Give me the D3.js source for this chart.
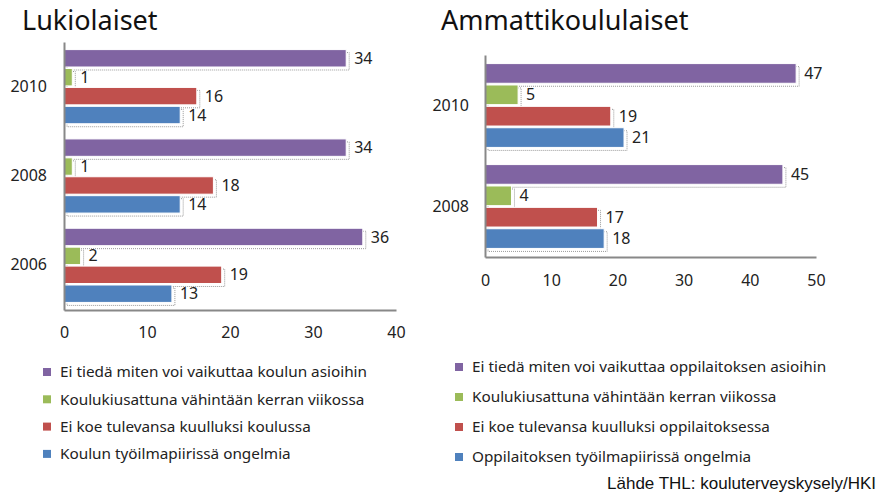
<!DOCTYPE html>
<html><head><meta charset="utf-8">
<script src="https://cdn.jsdelivr.net/npm/d3@7"></script>
<style>
body{margin:0;background:#fff;}
svg{display:block;font-family:"Noto Sans",sans-serif;}
</style></head>
<body><svg id="c" width="877" height="494"></svg>
<script>
// ---- data ----
const colors = ["#8064A2", "#9BBB59", "#C0504D", "#4F81BD"];

const lukioTitle = "Lukiolaiset";
const lukioYears = ["2010", "2008", "2006"];
const lukioVaikuttaa = [34, 34, 36];
const lukioKiusattu = [1, 1, 2];
const lukioKuulluksi = [16, 18, 19];
const lukioTyoilmapiiri = [14, 14, 13];
const lukioTicks = [0, 10, 20, 30, 40];
const lukioLegend = [
  "Ei tiedä miten voi vaikuttaa koulun asioihin",
  "Koulukiusattuna vähintään kerran viikossa",
  "Ei koe tulevansa kuulluksi koulussa",
  "Koulun työilmapiirissä ongelmia"
];

const ammattiTitle = "Ammattikoululaiset";
const ammattiYears = ["2010", "2008"];
const ammattiVaikuttaa = [47, 45];
const ammattiKiusattu = [5, 4];
const ammattiKuulluksi = [19, 17];
const ammattiTyoilmapiiri = [21, 18];
const ammattiTicks = [0, 10, 20, 30, 40, 50];
const ammattiLegend = [
  "Ei tiedä miten voi vaikuttaa oppilaitoksen asioihin",
  "Koulukiusattuna vähintään kerran viikossa",
  "Ei koe tulevansa kuulluksi oppilaitoksessa",
  "Oppilaitoksen työilmapiirissä ongelmia"
];

const sourceText = "Lähde THL: kouluterveyskysely/HKI";

const svg = d3.select("#c");

function drawChart(cfg) {
  const g = svg.append("g");
  const seriesVals = cfg.series;
  const x = d3.scaleLinear().domain([0, cfg.ticks[cfg.ticks.length - 1]]).range([cfg.x0, cfg.x1]);
  const y = d3.scaleBand().domain(cfg.years).range([cfg.y0, cfg.y1]).paddingInner(0.17).paddingOuter(0.085);
  const yi = d3.scaleBand().domain(d3.range(seriesVals.length)).range([0, y.bandwidth()]).paddingInner(0.08);

  // title
  g.append("text").attr("x", cfg.titleX).attr("y", 30).attr("font-size", 27)
    .attr("fill", "#111").text(cfg.title);

  const data = [];
  cfg.years.forEach((yr, i) => seriesVals.forEach((arr, s) => data.push({yr, s, v: arr[i]})));

  // shadows
  g.selectAll("rect.sh").data(data).join("rect").attr("class", "sh")
    .attr("x", x(0) + 3).attr("y", d => y(d.yr) + yi(d.s) + 3)
    .attr("width", d => x(d.v) - x(0)).attr("height", yi.bandwidth())
    .attr("fill", "none").attr("stroke", "#999").attr("stroke-width", 1).attr("stroke-dasharray", "1,1");
  // bars
  g.selectAll("rect.bar").data(data).join("rect").attr("class", "bar")
    .attr("x", x(0)).attr("y", d => y(d.yr) + yi(d.s))
    .attr("width", d => x(d.v) - x(0)).attr("height", yi.bandwidth())
    .attr("fill", d => colors[d.s]).attr("stroke", "#fff").attr("stroke-width", 1);
  // value labels
  g.selectAll("text.val").data(data).join("text").attr("class", "val")
    .attr("x", d => x(d.v) + 8).attr("y", d => y(d.yr) + yi(d.s) + yi.bandwidth() / 2)
    .attr("dy", "0.35em").attr("font-size", 16).attr("fill", "#222").text(d => d.v);

  // axes
  const ax = g.append("g").attr("transform", `translate(0,${cfg.y1})`)
    .call(d3.axisBottom(x).tickValues(cfg.ticks).tickSize(0).tickPadding(cfg.tickPad));
  ax.select(".domain").attr("stroke", "#888").attr("stroke-width", 2);
  ax.selectAll("text").attr("font-size", 16).attr("fill", "#222").attr("font-family", "Noto Sans");

  const ay = g.append("g").attr("transform", `translate(${cfg.x0},0)`)
    .call(d3.axisLeft(y).tickSize(0).tickPadding(cfg.yPad));
  ay.select(".domain").attr("stroke", "#888").attr("stroke-width", 2);
  ay.selectAll("text").attr("font-size", 16).attr("fill", "#222").attr("font-family", "Noto Sans");

  // legend
  const lg = g.append("g");
  cfg.legend.forEach((t, i) => {
    const yy = cfg.legY + i * cfg.legStep;
    lg.append("rect").attr("x", cfg.legX).attr("y", yy - 4).attr("width", 8).attr("height", 8).attr("fill", colors[i]);
    lg.append("text").attr("x", cfg.legX + 17).attr("y", yy).attr("dy", "0.35em")
      .attr("font-size", 15.3).attr("fill", "#222").text(t);
  });
}

drawChart({
  title: lukioTitle, titleX: 22, years: lukioYears,
  series: [lukioVaikuttaa, lukioKiusattu, lukioKuulluksi, lukioTyoilmapiiri],
  ticks: lukioTicks, x0: 64, x1: 396, y0: 42, y1: 310, tickPad: 17, yPad: 17,
  legend: lukioLegend, legX: 43, legY: 372, legStep: 27.3
});
drawChart({
  title: ammattiTitle, titleX: 441, years: ammattiYears,
  series: [ammattiVaikuttaa, ammattiKiusattu, ammattiKuulluksi, ammattiTyoilmapiiri],
  ticks: ammattiTicks, x0: 485, x1: 816, y0: 55, y1: 257, tickPad: 18, yPad: 16,
  legend: ammattiLegend, legX: 455, legY: 367, legStep: 30
});

svg.append("text").attr("x", 876).attr("y", 483).attr("dy", "0.35em").attr("text-anchor", "end")
  .attr("font-family", "Liberation Sans, Arial, sans-serif").attr("font-size", 17).attr("fill", "#111")
  .text(sourceText);
</script></body></html>
